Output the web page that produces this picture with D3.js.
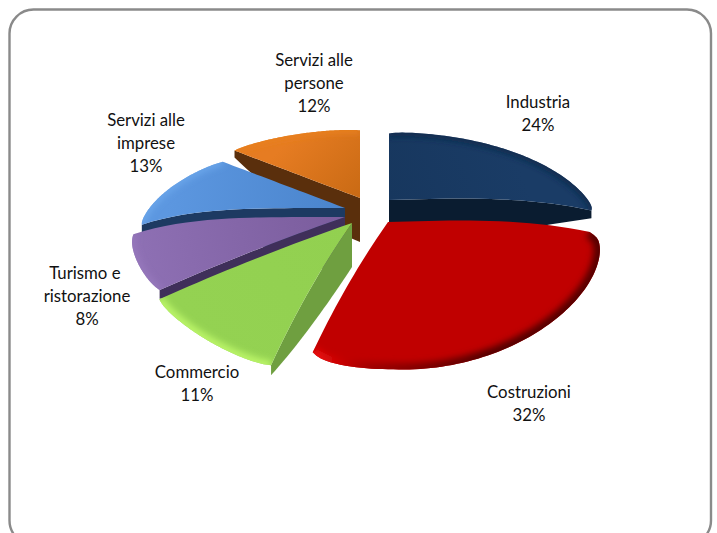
<!DOCTYPE html>
<html lang="it">
<head>
<meta charset="utf-8">
<title>Composizione per settore</title>
<script src="https://cdn.jsdelivr.net/npm/d3@7"></script>
<style>
  html, body { margin: 0; padding: 0; background: #fff; }
  svg { display: block; }
  text { font-family: Lato, "Open Sans", sans-serif; font-size: 16.8px; fill: #111; text-anchor: middle; }
</style>
</head>
<body>
<svg id="chart" width="717" height="533"></svg>
<script>
// Sector shares, clockwise from twelve o'clock
const sectors = ["Industria", "Costruzioni", "Commercio", "Turismo e ristorazione", "Servizi alle imprese", "Servizi alle persone"];
const shares = [24, 32, 11, 8, 13, 12];

// Wrapped label lines and their centre positions
const labelLines = [["Industria"], ["Costruzioni"], ["Commercio"], ["Turismo e\u00a0", "ristorazione"], ["Servizi alle", "imprese"], ["Servizi alle", "persone"]];
const labelAnchors = [[538, 108], [529, 398], [197, 378], [87, 279], [146, 126], [314, 66]];

// Slice colours: top face near the apex, top face near the rim, side wall, rim highlight
const topBase = ["#17375e", "#c00000", "#92d050", "#7a5c9c", "#4a84cc", "#c96a14"];
const topLight = ["#1a3c66", "#c00000", "#94d252", "#8e70b4", "#5c97e0", "#e67c22"];
const wallFill = ["#0a1c30", "#7a0000", "#6f9f40", "#3f2f5a", "#1d3a62", "#5a2f0c"];
const rimShade = ["#0f2a4c", "#640000", "#baf468", "#9678bc", "#6aa6ea", "#e8801f"];
const rimWidth = [7, 13, 10, 7, 7, 7];

// Radial edge whose wall faces the viewer; the large front slice shows none
const wallEdge = ["endAngle", null, "startAngle", "startAngle", "startAngle", "startAngle"];

// How far each slice is pulled out of the pie, its radial scale, rim fullness and corner rounding
const explode = [[29, -8], [28, 14], [-8, 15], [-15, 9], [-15, 0], [0, -10]];
const reach = [0.99, 1, 1.05, 1.01, 0.97, 1];
const bulge = [0, 0.03, 0, 0, 0, 0];
const cornerCut = [0.022, 0.035, 0.012, 0.012, 0.012, 0.012];

// Pie geometry on screen
const cx = 360, cy = 208;
const radiusX = 212, radiusY = 100;
const perspective = 0.198, coneDrop = 18;
const apexDepth = 44, rimDepth = 8;

const svg = d3.select("#chart");
const defs = svg.append("defs");
defs.append("filter").attr("id", "soft").attr("x", "-20%").attr("y", "-20%").attr("width", "140%").attr("height", "140%")
  .append("feGaussianBlur").attr("stdDeviation", 3);

// Rounded panel around the chart
svg.append("rect")
  .attr("x", 9.5).attr("y", 9.5).attr("width", 701.5).attr("height", 535)
  .attr("rx", 24).attr("ry", 24)
  .attr("fill", "#fff").attr("stroke", "#8a8a8a").attr("stroke-width", 2.4);

const arcs = d3.pie().value(d => d).sort(null)(shares);

// Maps a point of the domed top face (r in 0..1, angle clockwise from north) to the screen.
// Radial edges running sideways stay flat near the apex and fall off towards the rim.
function project(r, a, i, depth) {
  const sx = Math.sin(a), sy = -Math.cos(a);
  const u = r * reach[i] * sx, v = r * reach[i] * sy;
  const wy = 1 - perspective * v;
  const wx = 1 - perspective * Math.min(v, 0);
  const bow = 1 + 3 * Math.pow(1 - Math.abs(sy), 6);
  return [
    cx + explode[i][0] + radiusX * u / wx,
    cy + explode[i][1] + (radiusY * v + coneDrop * Math.pow(r, bow) * reach[i] + (depth || 0)) / wy
  ];
}

const path = d3.line();
const radii = d3.range(0, 21).map(t => t / 20);

// Rim samples, pulled in close to the two radial edges so the corners read as rounded
function rimPoints(d, i) {
  return d3.range(0, 81).map(t => {
    const a = d.startAngle + (d.endAngle - d.startAngle) * t / 80;
    const gap = Math.min(a - d.startAngle, d.endAngle - a);
    const r = 1 - cornerCut[i] * Math.exp(-gap / 0.05)
      + bulge[i] * Math.max(0, Math.sin(2 * (a - Math.PI / 2)));
    return project(r, a, i);
  });
}

// Paint back slices first so the nearer ones overlap their walls
const paintOrder = [5, 0, 4, 3, 2, 1];

paintOrder.forEach(i => {
  const d = arcs[i];
  const group = svg.append("g").attr("class", "slice");
  const rim = rimPoints(d, i);
  const apex = project(0, 0, i);
  const edgeEnd = 1 - cornerCut[i];

  // Side wall on the exposed radial edge, bulging as it tapers towards the rim
  if (wallEdge[i]) {
    const edge = d[wallEdge[i]];
    const wallTop = radii.map(r => project(r * edgeEnd, edge, i));
    const wallBottom = radii.map(r => project(r * edgeEnd, edge, i, apexDepth - (apexDepth - rimDepth) * Math.pow(r, 2))).reverse();
    group.append("path").attr("d", path(wallTop.concat(wallBottom)) + "Z").attr("fill", wallFill[i]);
  }

  const mid = project(1, (d.startAngle + d.endAngle) / 2, i);
  const grad = defs.append("linearGradient").attr("id", "top" + i)
    .attr("gradientUnits", "userSpaceOnUse")
    .attr("x1", apex[0]).attr("y1", apex[1])
    .attr("x2", mid[0]).attr("y2", mid[1]);
  grad.append("stop").attr("offset", 0).attr("stop-color", topBase[i]);
  grad.append("stop").attr("offset", 1).attr("stop-color", topLight[i]);

  const leading = radii.map(r => project(r * edgeEnd, d.startAngle, i));
  const trailing = radii.map(r => project(r * edgeEnd, d.endAngle, i)).reverse();
  const face = path(leading.concat(rim, trailing)) + "Z";
  group.append("path").attr("d", face).attr("fill", `url(#top${i})`);

  // Bevel shading along the rim, clipped to the face
  let stroke = rimShade[i];
  if (i === 1) {
    // The front slice catches the light on its left side and falls dark to the right
    const g = defs.append("linearGradient").attr("id", "rimFront")
      .attr("gradientUnits", "userSpaceOnUse")
      .attr("x1", 312).attr("y1", 0).attr("x2", 603).attr("y2", 0);
    g.append("stop").attr("offset", 0).attr("stop-color", "#f00a0a");
    g.append("stop").attr("offset", 0.2).attr("stop-color", "#a00000");
    g.append("stop").attr("offset", 0.6).attr("stop-color", "#560000");
    stroke = "url(#rimFront)";
  }
  defs.append("clipPath").attr("id", "clip" + i).append("path").attr("d", face);
  group.append("g").attr("clip-path", `url(#clip${i})`)
    .append("path").attr("d", path(rim)).attr("fill", "none")
    .attr("stroke", stroke).attr("stroke-width", rimWidth[i]).attr("filter", "url(#soft)");
});

// Labels: wrapped sector name with its share on the last line
arcs.forEach((d, i) => {
  const lines = labelLines[i].concat(d.data + "%");
  const label = svg.append("text").attr("class", "label").attr("aria-label", sectors[i]);
  lines.forEach((line, k) => {
    label.append("tspan")
      .attr("x", labelAnchors[i][0])
      .attr("y", labelAnchors[i][1] + k * 23)
      .text(line);
  });
});
</script>
</body>
</html>
